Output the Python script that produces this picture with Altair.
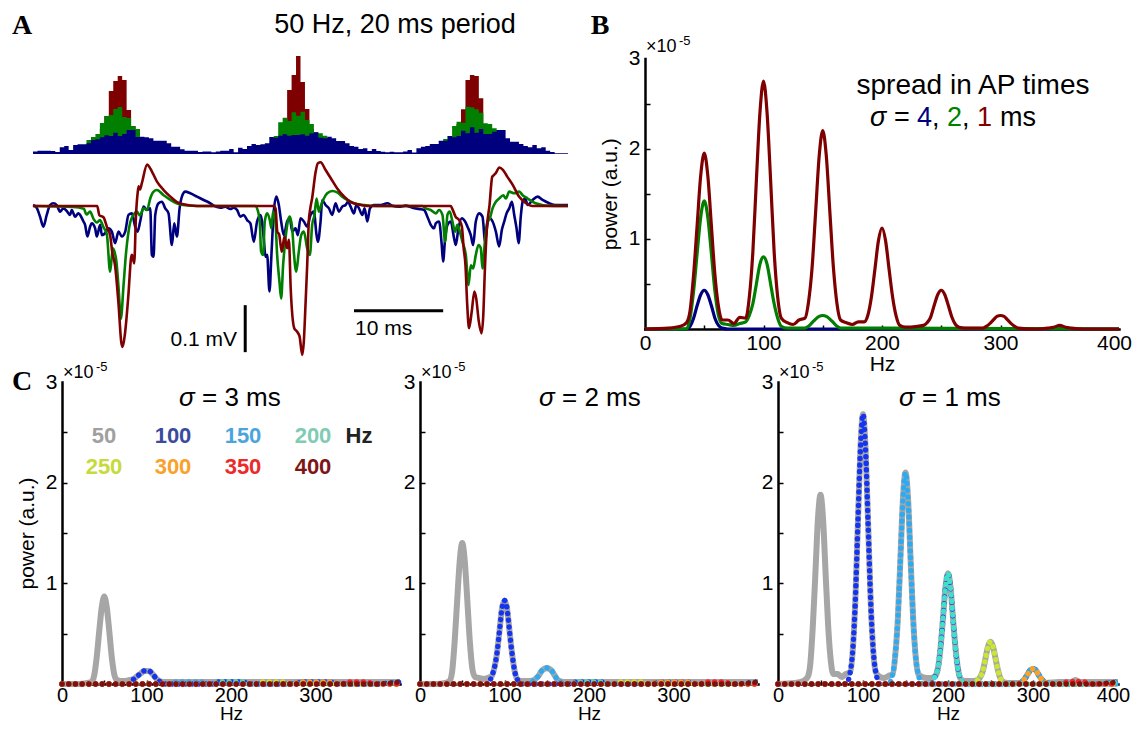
import altair as alt
import pandas as pd

OFF = 8
W, H = 1126, 718
SANS = "Liberation Sans"
SERIF = "Liberation Serif"

# ---------------- Panel A: spike-time histograms (0.5 ms bins) ----------------
HIST_BIN_MS = 0.5
BLUE_HIST = [2.5, 3.3, 3.3, 3.3, 3, 2, 6.7, 8, 4, 9, 9.7, 9.7, 10.7, 14, 14.7, 16.7, 18.7, 18, 21.3, 18,
             20, 24, 24, 17, 17.3, 16.7, 15.7, 13.3, 13.3, 13.3, 10.7, 7.3, 7.3, 4.7, 3.3, 3.3, 3.3, 2, 2.5, 2.5,
             1.7, 2.5, 3.3, 3.3,
             5, 1.7, 6.3, 5, 8, 10, 9, 9.7, 10.7, 17, 16.3, 18.3, 19.7, 18.3, 19, 19, 19.7, 18.3, 20.7, 21.7,
             16.3, 15.7, 17.3, 15.7, 13, 13, 10.7, 8, 7.3, 5, 5.7, 3, 5, 3, 2.3, 1.7, 2.3, 1.7, 1.7,
             2.5, 4, 1.5, 5.7, 7.3, 8, 10, 10, 13.3, 13.3, 18, 16.7, 18, 23.3, 20.7, 26.7, 21.3, 25, 20, 20,
             22.3, 24, 24, 15.7, 12.3, 12.3, 10, 8, 6.7, 9, 5.7, 6.7, 3.3, 2, 0.7, 0.7, 0.7]
RED_HIST_START = [15, 56, 95]
RED_HIST = [[25, 38, 63, 73, 78, 74, 44, 28, 20],
            [25, 64, 79, 98, 72, 45, 25],
            [30, 44.7, 74, 79, 78, 55.7, 30]]
GREEN_HIST_START = [12, 54, 92]
GREEN_HIST = [[14, 17, 20, 31, 38, 39, 45, 47, 37, 36, 28, 25, 15],
              [18, 31.7, 36.3, 33, 41.7, 38.3, 42.3, 34, 30, 21.7, 20.7, 18.3, 15],
              [15, 18, 28, 32.3, 31.3, 47.3, 46.7, 44.7, 41.3, 30.7, 30, 25.7, 24, 15]]

# ---------------- Panel A: LFP traces (ms, microvolts) ----------------
RED_LFP_T = [0, 7.2, 7.45, 7.9, 8.3, 8.65, 8.9, 9.2, 9.6, 9.9, 10.05, 10.3, 10.7, 11.0, 11.1, 11.35, 11.55, 11.75,
             11.85, 12.0, 12.2, 12.8, 13.15, 13.9, 14.65, 15.4, 16.1, 16.9, 18.4,
             27.0, 27.2, 27.4, 27.6, 27.9, 28.2, 28.5, 28.7, 28.9, 29.3, 29.6, 29.9, 30.19, 30.37, 30.56, 30.75,
             30.93, 31.1, 31.3, 31.7, 31.95, 32.25, 32.8, 33.4, 34.1, 34.9, 35.6, 36.4, 37.5,
             46.85, 47.0, 47.4, 47.8, 48.1, 48.3, 48.5, 48.7, 48.9, 49.2, 49.5, 49.7, 50.0, 50.3, 50.5, 50.67,
             50.9, 51.2, 51.5, 51.7, 51.9, 52.3, 52.7, 53.2, 53.8, 54.5, 55.3, 56.0, 60]
RED_LFP_V = [0, 0, -20, -24, -45, -62, -100, -126, -211, -290, -300, -274, -189, -110, -104, -122, -20, 30,
             42, 35, 48, 88, 80, 52, 34, 20, 9, 3.5, 0,
             0, -5, -55, -60, -97, -65, -90, -72, -175, -260, -267, -278, -317, -289, -211, -126,
             -33, -5, 16, 73, 91, 93, 77, 59, 38, 20, 9, 3.5, 0,
             0, -5, -23, -30, -44, -90, -126, -211, -260, -225, -182, -196, -246, -271, -232, -140,
             -48, 2, 62, 66, 70, 82, 77, 62, 45, 20, 6, 0, 0]
GREEN_LFP_T = [0, 4.5, 5.7, 6.0, 6.4, 6.8, 7.15, 7.5, 7.9, 8.28, 8.65, 8.95, 9.33, 9.6, 9.85, 10.15, 10.41, 10.71,
               10.9, 11.27, 11.65, 12.0, 12.4, 12.8, 13.15, 13.5, 13.9, 14.65, 15.4, 16.1, 17.3, 18.4,
               24.95, 25.13, 25.43, 25.58, 25.81, 25.99, 26.26, 26.56, 26.74, 26.93, 27.19, 27.38, 27.64, 27.83,
               28.05, 28.32, 28.58, 28.8, 29.07, 29.25, 29.52, 29.81, 30.08, 30.38, 30.75, 31.05, 31.31, 31.57,
               31.8, 32.06, 32.32, 32.62, 33.0, 33.56, 34.12, 34.68, 35.25, 35.99, 37.12, 38.5,
               43.67, 44.04, 44.61, 45.17, 45.54, 45.92, 46.22, 46.48, 46.74, 47.04, 47.34, 47.6, 47.87, 48.16,
               48.54, 48.84, 49.1, 49.36, 49.66, 49.96, 50.22, 50.41, 50.71, 50.97, 51.24, 51.54, 51.91, 52.28,
               52.73, 53.03, 53.41, 53.97, 54.53, 54.91, 55.47, 56.03, 56.78, 57.53, 60]
GREEN_LFP_V = [0, -2, -6, -18, -12, -28, -35, -30, -45, -60, -140, -90, -115, -175, -240, -170, -105, -55,
               -35, -19, -12, -20, -5, -8, 16, 30, 34, 23, 13, 6, 1, 0,
               0, -5, -33, -97, -104, -33, -15.6, -30, -47.5, -12, -33, -104, -161, -197,
               -126, -69, -33, -22.7, -47.5, -97, -140, -97, -62, -54.5, -90, -104, -40, -19,
               16, -12, 2, 16, 27, 32, 29, 20, 12.8, 5.7, 2, 0,
               0, -5, -8.5, -15.6, -8.5, -19, -76, -19, -12, -33, -54.5, -40, -54.5, -76,
               -104, -168, -126, -133, -104, -83, -90, -133, -69, -33, -26, -5, 9, 16,
               23, 16, 30.5, 27, 30.5, 23, 16, 9, 3.5, 0.7, 0]
BLUE_LFP_T = [0, 0.41, 0.79, 1.16, 1.54, 1.91, 2.29, 2.66, 3.03, 3.41, 3.78, 4.16, 4.35, 4.72, 5.09, 5.66, 5.84,
              6.1, 6.4, 6.59, 6.97, 7.15, 7.53, 7.72, 8.09, 8.46, 8.84, 9.21, 9.59, 9.96, 10.34, 10.71, 11.09,
              11.46, 11.72, 12.02, 12.4, 12.77, 13.15, 13.33, 13.52, 13.71, 14.08, 14.46, 14.83, 15.2, 15.58,
              15.84, 16.14, 16.44, 16.7, 17.08, 17.64, 18.39, 19.14, 19.89,
              20.26, 21.01, 21.57, 22.14, 22.51, 22.89, 23.26, 23.64, 24.01, 24.38, 24.76, 25.13, 25.51, 25.88,
              26.07, 26.26, 26.52, 26.74, 27.0, 27.3, 27.57, 27.83, 28.13, 28.5, 28.8, 29.07, 29.44, 29.7, 30.0,
              30.38, 30.75, 31.13, 31.5, 31.8, 31.95, 32.25, 32.44, 32.81, 33.19, 33.56, 33.93, 34.31, 34.68,
              35.06, 35.32, 35.62, 35.99, 36.26, 36.56, 36.93, 37.19, 37.49, 37.79, 38.24, 38.99, 39.74,
              40.3, 41.05, 41.8, 42.55, 43.3, 43.86, 44.23, 44.61, 44.98, 45.17, 45.54, 45.84, 45.99, 46.22,
              46.48, 46.85, 47.23, 47.42, 47.71, 48.09, 48.46, 48.73, 49.1, 49.36, 49.66, 50.04, 50.41, 50.71,
              50.97, 51.24, 51.54, 51.91, 52.28, 52.58, 52.85, 53.11, 53.41, 53.71, 53.97, 54.23, 54.46, 54.72,
              54.91, 55.21, 55.47, 56.03, 56.59, 57.15, 57.9, 58.65, 60]
BLUE_LFP_V = [2, -3.5, -22.7, -44, -19, 2, 5.7, 2, -12, -5, -10.6, -19, -8.5, -22.7, -15.6, -33, -40,
              -65, -44, -37, -47.5, -65, -40, -62, -58, -47.5, -54.5, -79, -54.5, -65, -54.5, -19, -15.6,
              -44, -54.5, -33, -1.4, -8.5, -5, -104, -108, -19, 5.7, 9, -5, -15.6, -83,
              -37, -65, -5, 20, 30.5, 27, 20, 12.8, 5.7,
              0.7, -3.5, -1.4, -6.4, -3.5, -8.5, -22.7, -19, -30, -37, -76, -33, -19, -69,
              -108, -104, -182, -104, -12, 20, 2, -33, -62, -33, -26, -54.5, -47.5, -62, -26,
              -33, -44, -19, -12, -62, -76, -33, 12.8, 2, -5, -19, 5.7, -12, -1.4,
              2, 9, -1.4, -15.6, 2, -5, -19, -5, -33, -5, 2, 2, 5.7,
              0.7, -1.4, 0.7, -3.5, -6.4, -8.5, -22.7, -40, -47.5, -37, -33, -83, -118, -69,
              -40, -33, -69, -83, -47.5, -26, -33, -44, -62, -83, -33, -15.6, -22.7, -76,
              -37, -26, -33, -54.5, -86, -51, -33, -15.6, -5, 9, -19, -47.5, -79, -19,
              9, 16, 2, 12.8, 20, 12.8, 5.7, 2, 2]
SCALEBAR_MS = 10
SCALEBAR_UV = 100

# ---------------- Panel B: power spectra (x1e-5) ----------------
B_RED_F = [0, 20, 30, 35, 38, 41, 44, 47, 50, 53, 56, 59, 62, 65, 70, 75, 80, 85, 88, 91, 94, 97, 100, 103, 106,
           109, 112, 115, 120, 125, 130, 135, 138, 141, 144, 147, 150, 153, 156, 159, 162, 165, 170, 175, 180,
           185, 188, 191, 194, 197, 200, 203, 206, 209, 212, 215, 220, 230, 235, 238, 241, 244, 247, 250, 253,
           256, 259, 262, 265, 270, 285, 288, 291, 294, 297, 300, 303, 306, 309, 312, 315, 330, 340, 345, 350,
           355, 360, 370, 400]
B_RED_P = [0, 0.01, 0.03, 0.07, 0.2, 0.6, 1.15, 1.7, 1.95, 1.7, 1.15, 0.6, 0.25, 0.1, 0.1, 0.06, 0.13, 0.12,
           0.35, 0.85, 1.65, 2.4, 2.75, 2.4, 1.65, 0.85, 0.35, 0.12, 0.07, 0.05, 0.1, 0.12, 0.3, 0.68, 1.3, 1.92,
           2.2, 1.92, 1.3, 0.68, 0.28, 0.1, 0.07, 0.05, 0.08, 0.08, 0.15, 0.35, 0.66, 0.98, 1.12, 0.98, 0.66,
           0.35, 0.14, 0.04, 0.02, 0.03, 0.04, 0.07, 0.13, 0.26, 0.38, 0.43, 0.38, 0.26, 0.13, 0.05, 0.02, 0.01,
           0.01, 0.03, 0.06, 0.1, 0.14, 0.15, 0.14, 0.1, 0.06, 0.03, 0.01, 0.0, 0.01, 0.02, 0.04, 0.02, 0.01,
           0.0, 0.0]
B_GREEN_F = [0, 35, 38, 41, 44, 47, 50, 53, 56, 59, 62, 65, 70, 75, 80, 85, 88, 91, 94, 97, 100, 103, 106, 109,
             112, 115, 120, 135, 138, 141, 144, 147, 150, 153, 156, 159, 162, 165, 200, 400]
B_GREEN_P = [0, 0, 0.12, 0.42, 0.84, 1.24, 1.42, 1.24, 0.84, 0.42, 0.15, 0.06, 0.05, 0.04, 0.06, 0.08, 0.15,
             0.28, 0.5, 0.72, 0.8, 0.72, 0.5, 0.28, 0.12, 0.03, 0.01, 0.01, 0.03, 0.07, 0.11, 0.14, 0.15, 0.14,
             0.11, 0.07, 0.03, 0.01, 0.01, 0.0]
B_BLUE_F = [0, 35, 38, 41, 44, 47, 50, 53, 56, 59, 62, 65, 70, 400]
B_BLUE_P = [0, 0, 0.03, 0.12, 0.26, 0.38, 0.43, 0.38, 0.26, 0.12, 0.04, 0.01, 0.0, 0.0]

# ---------------- Panel C: spectra for sigma = 3, 2, 1 ms ----------------
C_F = B_RED_F
C1_P = [0, 0, 0.01, 0.02, 0.08, 0.26, 0.52, 0.76, 0.87, 0.76, 0.52, 0.26, 0.09, 0.04, 0.03, 0.03, 0.04, 0.05,
        0.07, 0.09, 0.11, 0.13, 0.13, 0.13, 0.11, 0.08, 0.05, 0.03, 0.02, 0.02, 0.02, 0.02, 0.02, 0.02, 0.02,
        0.02, 0.02, 0.02, 0.02, 0.02, 0.02, 0.02, 0.02, 0.02, 0.02, 0.02, 0.02, 0.02, 0.02, 0.02, 0.02, 0.02,
        0.02, 0.02, 0.02, 0.02, 0.02, 0.02, 0.02, 0.02, 0.02, 0.02, 0.02, 0.02, 0.02, 0.02, 0.02, 0.02, 0.02,
        0.02, 0.02, 0.02, 0.02, 0.02, 0.02, 0.02, 0.02, 0.02, 0.02, 0.02, 0.02, 0.02, 0.02, 0.02, 0.02, 0.02,
        0.02, 0.02, 0.02]
C2_P = [0, 0, 0.01, 0.03, 0.12, 0.42, 0.83, 1.22, 1.4, 1.22, 0.83, 0.42, 0.15, 0.07, 0.06, 0.05, 0.06, 0.08,
        0.16, 0.3, 0.52, 0.75, 0.83, 0.75, 0.52, 0.3, 0.13, 0.05, 0.03, 0.03, 0.03, 0.04, 0.06, 0.09, 0.13,
        0.15, 0.16, 0.15, 0.13, 0.09, 0.05, 0.03, 0.02, 0.02, 0.02, 0.02, 0.02, 0.02, 0.02, 0.02, 0.02, 0.02,
        0.02, 0.02, 0.02, 0.02, 0.02, 0.02, 0.02, 0.02, 0.02, 0.02, 0.02, 0.02, 0.02, 0.02, 0.02, 0.02, 0.02,
        0.02, 0.02, 0.02, 0.02, 0.02, 0.02, 0.02, 0.02, 0.02, 0.02, 0.02, 0.02, 0.02, 0.02, 0.02, 0.02, 0.02,
        0.02, 0.02, 0.02]
C3_P = [0, 0.01, 0.03, 0.07, 0.2, 0.58, 1.1, 1.64, 1.88, 1.64, 1.1, 0.58, 0.24, 0.1, 0.1, 0.07, 0.1, 0.12, 0.34,
        0.83, 1.6, 2.34, 2.68, 2.34, 1.6, 0.83, 0.34, 0.12, 0.07, 0.06, 0.08, 0.1, 0.29, 0.65, 1.24, 1.84, 2.1,
        1.84, 1.24, 0.65, 0.27, 0.1, 0.07, 0.06, 0.06, 0.08, 0.15, 0.34, 0.64, 0.96, 1.1, 0.96, 0.64, 0.34, 0.14,
        0.05, 0.03, 0.03, 0.04, 0.07, 0.13, 0.25, 0.37, 0.42, 0.37, 0.25, 0.13, 0.05, 0.02, 0.01, 0.01, 0.03,
        0.06, 0.1, 0.14, 0.15, 0.14, 0.1, 0.06, 0.03, 0.01, 0.02, 0.02, 0.02, 0.04, 0.02, 0.02, 0.02, 0.02]
C_SIGMAS = ["3", "2", "1"]
C_POWERS = [C1_P, C2_P, C3_P]
RHYTHMS = [100, 150, 200, 250, 300, 350, 400]
LEGEND_ROW1 = ["50", "100", "150", "200"]
LEGEND_ROW2 = ["250", "300", "350", "400"]

# ---------------- colours / geometry ----------------
NAVY, GREEN, MAROON = "#00007f", "#007f00", "#7f0000"
GREY = "#a6a6a6"
DOT_COL = {100: "#1434f0", 150: "#2eaaf0", 200: "#3fe0c8", 250: "#c8e632", 300: "#ffa020",
           350: "#f02828", 400: "#801010"}
LEG_COL = {"50": "#a0a0a0", "100": "#3a4b9e", "150": "#4ba5dd", "200": "#7fcbb3", "250": "#c6db3b",
           "300": "#f9a12b", "350": "#ec2a2a", "400": "#7d1616"}


def P(v):
    return v - OFF


def sc(dom, rng):
    return alt.Scale(domain=dom, range=[P(rng[0]), P(rng[1])], nice=False, zero=False)


A_XS = sc([0, 60], [33, 568])
A_HYS = sc([0, 100], [154, 54])
A_LYS = sc([-350, 100], [206 + 350 / 2.128, 206 - 100 / 2.128])
B_XS = sc([0, 400], [645, 1119])
B_YS = sc([0, 3], [329, 58.5])
C_XR = [[62, 400], [420, 758], [778, 1118]]
C_YR = [684, 382]

ONE = pd.DataFrame({"k": [0]})
layers = []


def txt(s, x, y, size=21, color="black", font=SANS, weight="normal", style="normal",
        align="center", baseline="middle"):
    return alt.Chart(ONE).mark_text(text=s, font=font, fontSize=size, fontWeight=weight, fontStyle=style,
                                    color=color, align=align, baseline=baseline).encode(
        x=alt.value(P(x)), y=alt.value(P(y)))


LAST_LABEL_SHIFT = {"condition": {"test": "datum.value == 400", "value": -5}, "value": 0}


def x_axis(y_ref, values, lpad, tpad, lsize, tsize):
    return alt.Axis(orient="bottom", offset=P(y_ref) - H, values=values, ticks=False, labelPadding=lpad,
                    labelFontSize=lsize, title="Hz", titlePadding=tpad, titleFontSize=tsize, format="d",
                    labelFlush=False, labelOverlap=False, labelOffset=LAST_LABEL_SHIFT)


def y_axis(x_ref, title):
    return alt.Axis(orient="left", offset=-P(x_ref), values=[1, 2, 3], ticks=False, labelPadding=5,
                    title=title, titlePadding=8, format="d", labelOverlap=False)


def ytick_axis(x_ref):
    return alt.Axis(orient="right", offset=P(x_ref) - W, values=[0.5, 1, 1.5, 2, 2.5], labels=False,
                    domain=False, ticks=True, tickSize=5, tickWidth=1.5, title="")


def xtick_axis(y_ref):
    return alt.Axis(orient="top", offset=-P(y_ref), values=[50, 100, 150, 200, 250, 300, 350],
                    labels=False, domain=False, ticks=True, tickSize=4, tickWidth=1.5, title="")


# ---- A histograms ----
def hist_df(starts, groups):
    rows = []
    for g, (s, vals) in enumerate(zip(starts, groups)):
        for i, v in enumerate(vals):
            rows.append({"t": (s + i) * HIST_BIN_MS, "n": v, "g": g})
        rows.append({"t": (s + len(vals)) * HIST_BIN_MS, "n": 0, "g": g})
    return pd.DataFrame(rows)


for starts, groups, col in [(RED_HIST_START, RED_HIST, MAROON), (GREEN_HIST_START, GREEN_HIST, GREEN),
                            ([0], [BLUE_HIST], NAVY)]:
    layers.append(alt.Chart(hist_df(starts, groups)).mark_area(interpolate="step-after", color=col).encode(
        x=alt.X("t:Q", scale=A_XS, axis=None), y=alt.Y("n:Q", scale=A_HYS, axis=None),
        y2=alt.datum(0), detail="g:N"))

# ---- A LFP ----
for T, V, col in [(BLUE_LFP_T, BLUE_LFP_V, NAVY), (GREEN_LFP_T, GREEN_LFP_V, GREEN),
                  (RED_LFP_T, RED_LFP_V, MAROON)]:
    layers.append(alt.Chart(pd.DataFrame({"t": T, "v": V})).mark_line(
        color=col, strokeWidth=2.6, interpolate="monotone").encode(
        x=alt.X("t:Q", scale=A_XS, axis=None), y=alt.Y("v:Q", scale=A_LYS, axis=None)))

bars = pd.DataFrame({"t0": [36.0, 23.8], "t1": [36.0 + SCALEBAR_MS, 23.8],
                     "v0": [-223, -211], "v1": [-223, -211 - SCALEBAR_UV]})
layers.append(alt.Chart(bars).mark_rule(color="black", strokeWidth=3).encode(
    x=alt.X("t0:Q", scale=A_XS, axis=None), x2="t1:Q",
    y=alt.Y("v0:Q", scale=A_LYS, axis=None), y2="v1:Q"))
layers.append(txt("10 ms", 355, 329, size=21, align="left"))
layers.append(txt("0.1 mV", 237, 340, size=21, align="right"))

# ---- B ----
for i, (F, Pw, col) in enumerate([(B_BLUE_F, B_BLUE_P, NAVY), (B_GREEN_F, B_GREEN_P, GREEN),
                                  (B_RED_F, B_RED_P, MAROON)]):
    first = i == 0
    layers.append(alt.Chart(pd.DataFrame({"f": F, "p": Pw})).mark_line(
        color=col, strokeWidth=3.2, interpolate="monotone").encode(
        x=alt.X("f:Q", scale=B_XS,
                axis=x_axis(329, [0, 100, 200, 300, 400], 3, 0, 21, 21) if first else None),
        y=alt.Y("p:Q", scale=B_YS, axis=y_axis(645, "power (a.u.)") if first else None)))
layers.append(alt.Chart(pd.DataFrame({"f": B_BLUE_F, "p": B_BLUE_P})).mark_line(opacity=0).encode(
    x=alt.X("f:Q", scale=B_XS, axis=xtick_axis(329)), y=alt.Y("p:Q", scale=B_YS, axis=ytick_axis(645))))

# ---- C ----
def component(freqs, powers, rhythm):
    out = []
    for f, p in zip(freqs, powers):
        m = round(f / rhythm)
        out.append(p if (m >= 1 and abs(f - m * rhythm) <= 16) else 0.0)
    return out


for k, (powers, xr) in enumerate(zip(C_POWERS, C_XR)):
    xs = sc([0, 400], xr)
    ys = sc([0, 3], C_YR)
    xvals = [0, 100, 200, 300, 400] if k == 2 else [0, 100, 200, 300]
    layers.append(alt.Chart(pd.DataFrame({"f": C_F, "p": powers})).mark_line(
        color=GREY, strokeWidth=6, interpolate="monotone").encode(
        x=alt.X("f:Q", scale=xs, axis=x_axis(C_YR[0], xvals, 1, -1, 20, 19)),
        y=alt.Y("p:Q", scale=ys, axis=y_axis(xr[0], "power (a.u.)" if k == 0 else ""))))
    layers.append(alt.Chart(pd.DataFrame({"f": C_F, "p": powers})).mark_line(opacity=0).encode(
        x=alt.X("f:Q", scale=xs, axis=xtick_axis(C_YR[0])),
        y=alt.Y("p:Q", scale=ys, axis=ytick_axis(xr[0]))))
    for r in RHYTHMS:
        layers.append(alt.Chart(pd.DataFrame({"f": C_F, "p": component(C_F, powers, r)})).mark_line(
            color=DOT_COL[r], strokeWidth=5.4, strokeDash=[0.1, 6.6], strokeCap="round",
            interpolate="monotone").encode(
            x=alt.X("f:Q", scale=xs, axis=None), y=alt.Y("p:Q", scale=ys, axis=None)))
    # x10^-5 marker
    layers.append(txt("\u00d710", xr[0] + 1, 373, size=18, align="left"))
    layers.append(txt("-5", xr[0] + 34, 367, size=13, align="left"))
    # sigma title
    cx = [230, 590, 950][k]
    layers.append(txt("\u03c3", cx - 51, 398, size=26, style="italic", align="left"))
    layers.append(txt("= " + C_SIGMAS[k] + " ms", cx - 28, 398, size=26, align="left"))

# C legend
for lab, x in zip(LEGEND_ROW1, [104, 173, 243, 313]):
    layers.append(txt(lab, x, 436, size=22, weight="bold", color=LEG_COL[lab]))
layers.append(txt("Hz", 359, 436, size=22, weight="bold", color="#222222"))
for lab, x in zip(LEGEND_ROW2, [104, 173, 243, 313]):
    layers.append(txt(lab, x, 467, size=22, weight="bold", color=LEG_COL[lab]))

# B annotations
layers.append(txt("\u00d710", 646, 47, size=18, align="left"))
layers.append(txt("-5", 679, 41, size=13, align="left"))
layers.append(txt("spread in AP times", 973, 86, size=28))
layers.append(txt("\u03c3", 870, 118, size=27, style="italic", align="left"))
layers.append(txt("=", 894, 118, size=27, align="left"))
layers.append(txt("4", 917, 118, size=27, align="left", color=NAVY))
layers.append(txt(",", 932, 118, size=27, align="left"))
layers.append(txt("2", 947, 118, size=27, align="left", color=GREEN))
layers.append(txt(",", 962, 118, size=27, align="left"))
layers.append(txt("1", 977, 118, size=27, align="left", color=MAROON))
layers.append(txt("ms", 1000, 118, size=27, align="left"))

# titles and panel letters
layers.append(txt("50 Hz, 20 ms period", 395, 24.5, size=27))
layers.append(txt("A", 22, 25.5, size=28, font=SERIF, weight="bold"))
layers.append(txt("B", 600, 25.5, size=28, font=SERIF, weight="bold"))
layers.append(txt("C", 22, 382, size=28, font=SERIF, weight="bold"))

chart = alt.layer(*layers).resolve_scale(x="independent", y="independent").resolve_axis(
    x="independent", y="independent").properties(
    width=W, height=H, autosize=alt.AutoSizeParams(type="none"), padding=0).configure_view(
    strokeWidth=0).configure_axis(
    labelFont=SANS, labelFontSize=21, titleFont=SANS, titleFontSize=21, titleFontWeight="normal",
    labelColor="black", titleColor="black", domainColor="black", domainWidth=2.5, domainCap="square",
    tickColor="black", grid=False)

chart.save("out.html", embed_options={"renderer": "svg", "actions": False})
